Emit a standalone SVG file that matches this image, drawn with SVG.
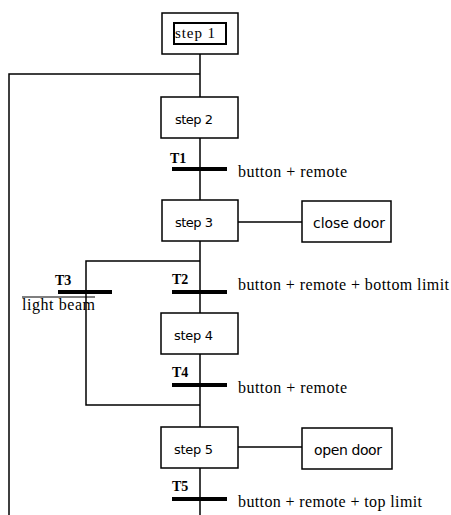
<svg xmlns="http://www.w3.org/2000/svg" width="451" height="515" viewBox="0 0 451 515">
<style>
.ln{fill:none;stroke:#000;stroke-width:1.5}
.box{fill:#fff;stroke:#000;stroke-width:1.5}
.bar{stroke:#000;stroke-width:4}
.st{font-family:"DejaVu Sans",sans-serif;font-size:13px;fill:#000}
.act{font-family:"DejaVu Sans",sans-serif;font-size:14px;fill:#000}
.cond{font-family:"Liberation Serif",serif;font-size:16px;fill:#000}
.tl{font-family:"Liberation Serif",serif;font-size:14px;font-weight:bold;fill:#000}
</style>
<rect width="451" height="515" fill="#fff"/>
<g id="connectors">
<path class="ln" d="M200 54V515"/>
<path class="ln" d="M200 74H9V515"/>
<path class="ln" d="M200 261H86V405H200"/>
<path class="ln" d="M238 222H302"/>
<path class="ln" d="M238 447H302"/>
</g>
<g id="step1">
<rect class="box" x="162" y="13" width="76" height="41"/>
<rect x="174" y="23" width="52" height="21" fill="#fff" stroke="#000" stroke-width="2"/>
<text x="175" y="38" font-family="Liberation Serif,serif" font-size="15" textLength="40" lengthAdjust="spacing">step 1</text>
</g>
<g id="step2">
<rect class="box" x="161" y="97" width="77" height="41"/>
<text class="st" x="175" y="124" textLength="38" lengthAdjust="spacing">step 2</text>
</g>
<g id="T1">
<line class="bar" x1="172" y1="169" x2="227" y2="169"/>
<text class="tl" x="170" y="163">T1</text>
<text class="cond" x="238" y="177" textLength="109" lengthAdjust="spacing">button + remote</text>
</g>
<g id="step3">
<rect class="box" x="162" y="200" width="76" height="41"/>
<text class="st" x="175" y="227" textLength="38" lengthAdjust="spacing">step 3</text>
</g>
<g id="close-door">
<rect class="box" x="302" y="201" width="89" height="41"/>
<text class="act" x="313" y="228" textLength="72" lengthAdjust="spacing">close door</text>
</g>
<g id="T2">
<line class="bar" x1="172" y1="292" x2="227" y2="292"/>
<text class="tl" x="172" y="284">T2</text>
<text class="cond" x="238" y="290" textLength="211" lengthAdjust="spacing">button + remote + bottom limit</text>
</g>
<g id="T3">
<line class="bar" x1="58" y1="292" x2="112" y2="292"/>
<text class="tl" x="55" y="285">T3</text>
<line x1="22" y1="297" x2="95" y2="297" stroke="#000" stroke-width="1.2"/>
<text class="cond" x="22" y="310" textLength="73" lengthAdjust="spacing">light beam</text>
</g>
<g id="step4">
<rect class="box" x="161" y="313" width="77" height="41"/>
<text class="st" x="174" y="340" textLength="39" lengthAdjust="spacing">step 4</text>
</g>
<g id="T4">
<line class="bar" x1="172" y1="385" x2="227" y2="385"/>
<text class="tl" x="172" y="377">T4</text>
<text class="cond" x="238" y="393" textLength="109" lengthAdjust="spacing">button + remote</text>
</g>
<g id="step5">
<rect class="box" x="161" y="427" width="77" height="41"/>
<text class="st" x="174" y="454" textLength="39" lengthAdjust="spacing">step 5</text>
</g>
<g id="open-door">
<rect class="box" x="302" y="428" width="90" height="41"/>
<text class="act" x="314" y="455" textLength="68" lengthAdjust="spacing">open door</text>
</g>
<g id="T5">
<line class="bar" x1="172" y1="499" x2="227" y2="499"/>
<text class="tl" x="172" y="491">T5</text>
<text class="cond" x="238" y="507" textLength="184" lengthAdjust="spacing">button + remote + top limit</text>
</g>
</svg>
